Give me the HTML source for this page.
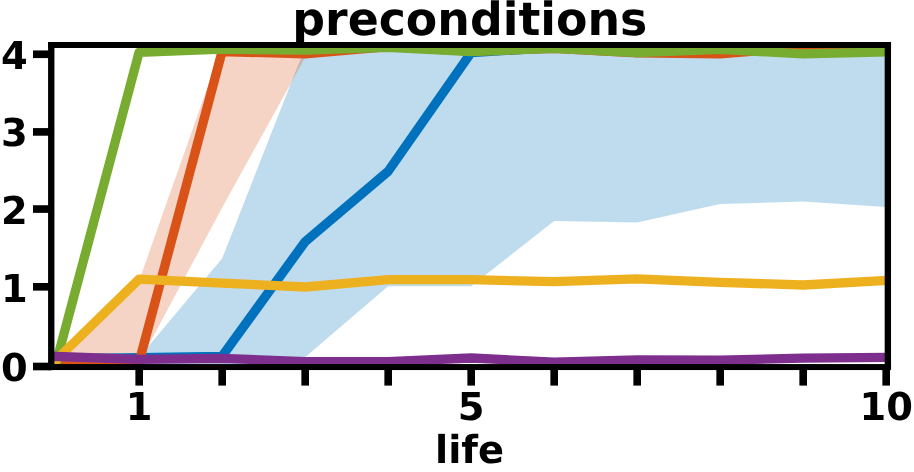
<!DOCTYPE html>
<html><head><meta charset="utf-8"><title>preconditions</title>
<style>html,body{margin:0;padding:0;background:#fff;overflow:hidden}svg{display:block}text{font-family:"DejaVu Sans","Liberation Sans",sans-serif;font-weight:bold;fill:#000;text-rendering:geometricPrecision}</style></head><body>
<svg width="914" height="472" viewBox="0 0 914 472">
<rect width="914" height="472" fill="#fff"/>
<defs><clipPath id="ax"><rect x="51.25" y="45.0" width="836.6" height="322.1"/></clipPath></defs>
<g clip-path="url(#ax)">
<polygon points="56.1,358.9 139.1,357.3 222.1,258.5 305.1,47.3 388.1,47.3 471.1,50.4 554.1,48.1 637.1,52.0 720.1,50.4 803.1,54.3 886.1,52.0 886.1,207.1 803.1,201.6 720.1,204.0 637.1,222.5 554.1,220.9 471.1,286.3 388.1,286.3 305.1,357.3 222.1,366.7 139.1,366.7 56.1,366.7" fill="#0072BD" fill-opacity="0.25"/>
<polygon points="56.1,362.8 139.1,280.8 222.1,45.7 305.1,50.4 305.1,57.4 222.1,207.8 139.1,362.8 56.1,366.7" fill="#D95319" fill-opacity="0.25"/>
<polyline points="56.1,358.9 139.1,357.6 222.1,356.3 305.1,241.7 388.1,171.4 471.1,52.6 554.1,47.3 637.1,50.4 720.1,50.4 803.1,50.4 886.1,50.4" fill="none" stroke="#0072BD" stroke-width="9.3" stroke-linejoin="round" stroke-linecap="square"/>
<polyline points="56.1,363.6 139.1,362.0 222.1,51.5 305.1,53.9 388.1,46.7 471.1,51.2 554.1,48.4 637.1,52.9 720.1,53.9 803.1,47.3 886.1,50.4" fill="none" stroke="#D95319" stroke-width="9.3" stroke-linejoin="round" stroke-linecap="square"/>
<polyline points="56.1,363.1 139.1,52.3 222.1,49.1 305.1,50.2 388.1,47.4 471.1,51.5 554.1,48.3 637.1,52.7 720.1,49.4 803.1,53.8 886.1,52.0" fill="none" stroke="#77AC30" stroke-width="9.3" stroke-linejoin="round" stroke-linecap="square"/>
<polyline points="56.1,360.0 139.1,279.2 222.1,283.1 305.1,287.0 388.1,279.6 471.1,279.7 554.1,281.7 637.1,278.9 720.1,282.4 803.1,285.0 886.1,280.4" fill="none" stroke="#EDB120" stroke-width="9.3" stroke-linejoin="round" stroke-linecap="square"/>
<polyline points="56.1,356.5 139.1,359.4 222.1,358.3 305.1,361.6 388.1,361.7 471.1,358.0 554.1,362.2 637.1,360.0 720.1,360.2 803.1,358.1 886.1,357.3" fill="none" stroke="#7E2F8E" stroke-width="9.3" stroke-linejoin="round" stroke-linecap="square"/>
</g>
<g stroke="#000" stroke-width="7.65" fill="none">
<line x1="139.20" y1="367.05" x2="139.20" y2="385.60"/>
<line x1="222.20" y1="367.05" x2="222.20" y2="385.60"/>
<line x1="305.20" y1="367.05" x2="305.20" y2="385.60"/>
<line x1="388.20" y1="367.05" x2="388.20" y2="385.60"/>
<line x1="471.20" y1="367.05" x2="471.20" y2="385.60"/>
<line x1="554.20" y1="367.05" x2="554.20" y2="385.60"/>
<line x1="637.20" y1="367.05" x2="637.20" y2="385.60"/>
<line x1="720.20" y1="367.05" x2="720.20" y2="385.60"/>
<line x1="803.20" y1="367.05" x2="803.20" y2="385.60"/>
<line x1="886.20" y1="367.05" x2="886.20" y2="385.60"/>
<line x1="51.25" y1="366.50" x2="33.00" y2="366.50"/>
<line x1="51.25" y1="286.80" x2="33.00" y2="286.80"/>
<line x1="51.25" y1="209.05" x2="33.00" y2="209.05"/>
<line x1="51.25" y1="131.90" x2="33.00" y2="131.90"/>
<line x1="51.25" y1="54.25" x2="33.00" y2="54.25"/>
</g>
<g fill="#000">
<rect x="48.08" y="42.00" width="6.35" height="328.05"/>
<rect x="884.68" y="42.00" width="6.35" height="328.05"/>
<rect x="48.08" y="42.00" width="842.95" height="6.0"/>
<rect x="48.08" y="364.05" width="842.95" height="6.0"/>
</g>
 <text x="27.65" y="381.30" font-size="38.4" text-anchor="end">0</text>
 <text x="27.65" y="301.90" font-size="38.4" text-anchor="end">1</text>
 <text x="27.65" y="223.65" font-size="38.4" text-anchor="end">2</text>
 <text x="27.65" y="146.00" font-size="38.4" text-anchor="end">3</text>
 <text x="27.65" y="68.85" font-size="38.4" text-anchor="end">4</text>
<text x="139.2" y="419.6" font-size="38.4" text-anchor="middle">1</text>
<text x="471.2" y="419.6" font-size="38.4" text-anchor="middle">5</text>
<text x="886.2" y="419.6" font-size="38.4" text-anchor="middle">10</text>
<text x="469.5" y="462.8" font-size="38.4" text-anchor="middle">life</text>
<text x="469.8" y="35.4" font-size="45.8" text-anchor="middle">preconditions</text>
</svg></body></html>
